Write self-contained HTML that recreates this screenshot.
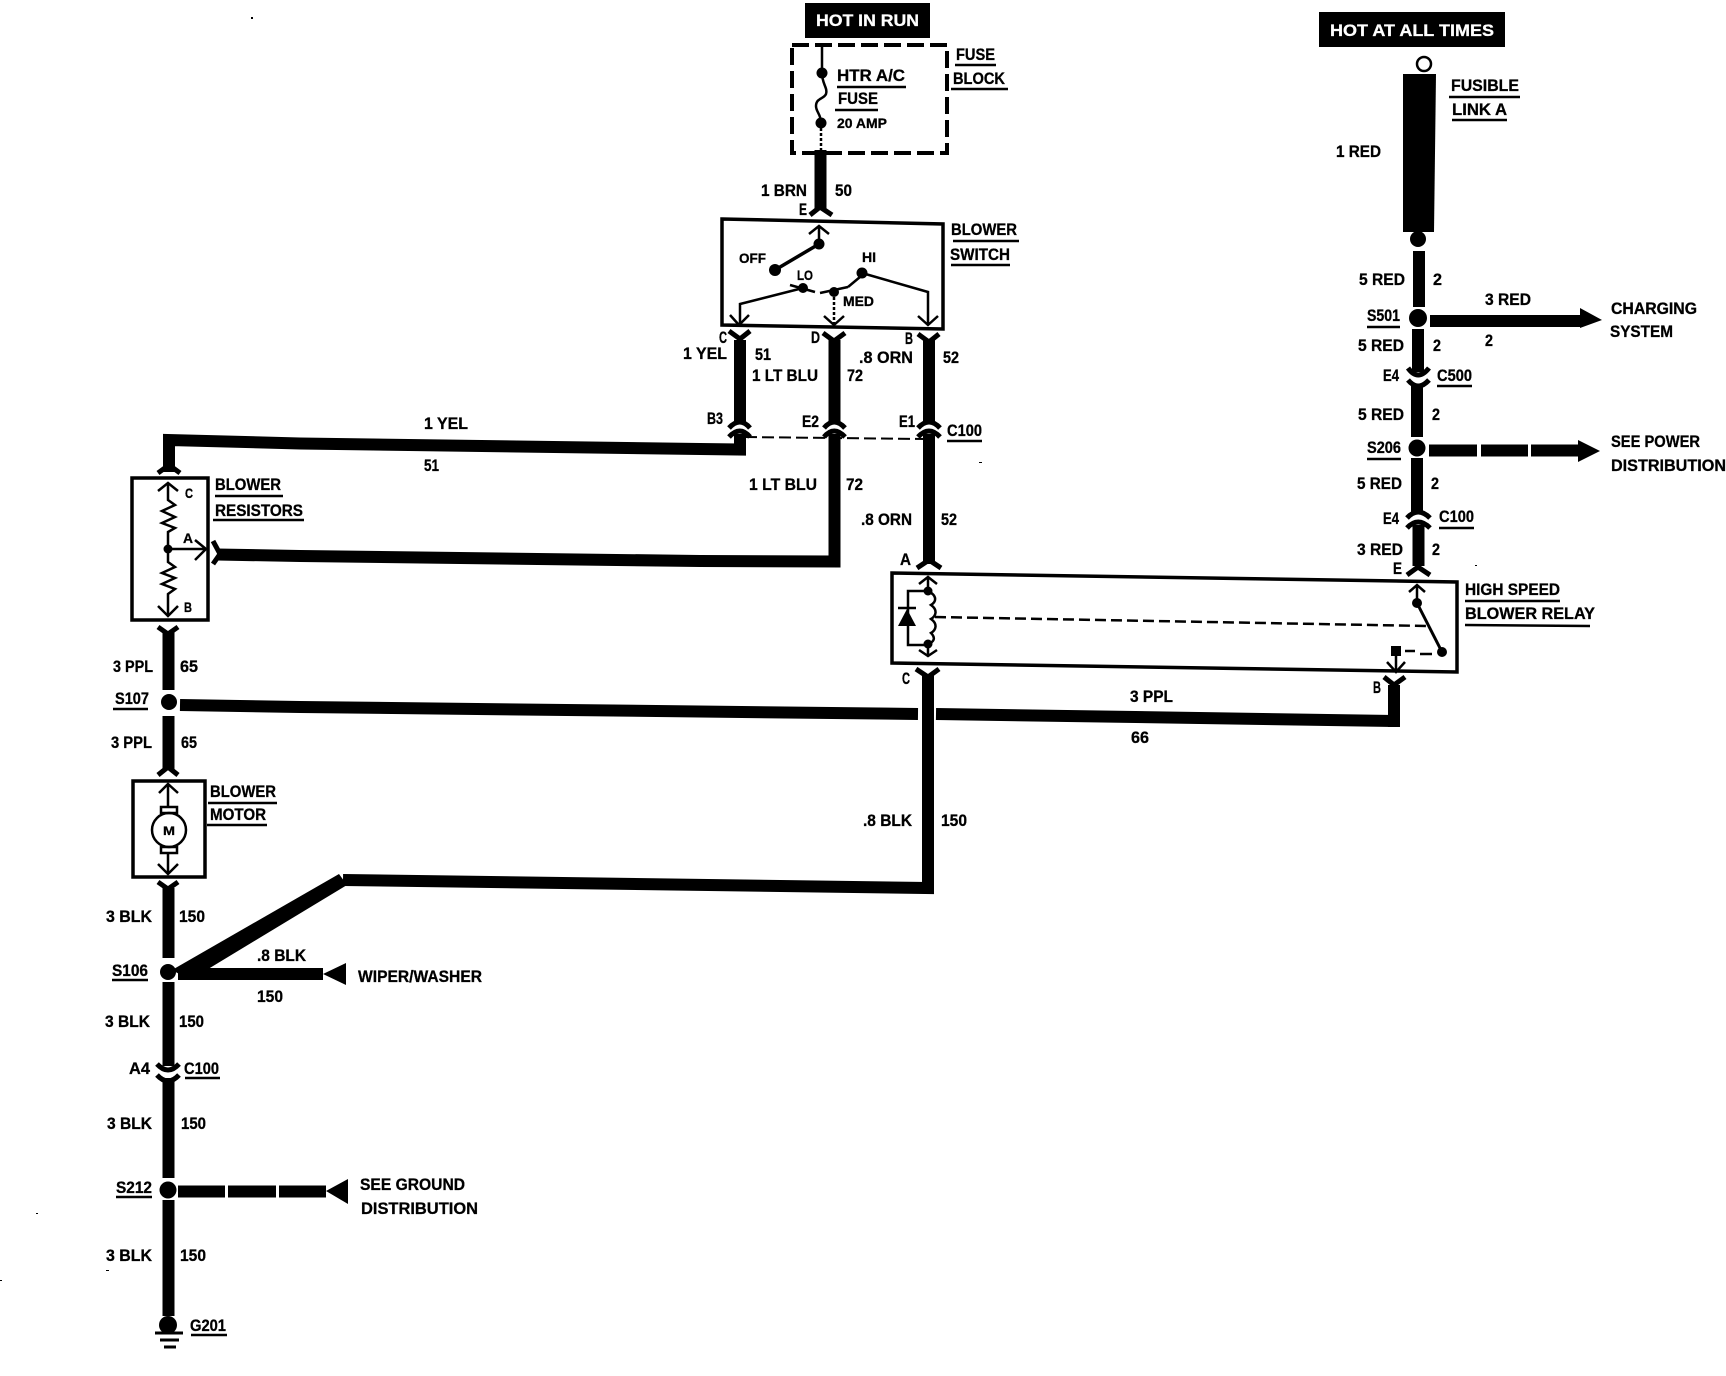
<!DOCTYPE html>
<html><head><meta charset="utf-8"><style>
html,body{margin:0;padding:0;background:#fff}
svg{display:block}
text{font-family:"Liberation Sans",sans-serif;font-weight:bold;font-size:17px;fill:#000;stroke:#000;stroke-width:.3}
.s{font-size:14px}
.w{fill:#fff;stroke:#fff;font-size:17px}
.n{fill:none;stroke:#000}
</style></head><body>
<svg width="1726" height="1376" viewBox="0 0 1726 1376" xmlns="http://www.w3.org/2000/svg">
<!-- wires -->
<g class="n" style="fill:none;stroke:#000;stroke-width:12">
<path d="M820.500 150V210"/>
<path d="M740 340V422"/><path d="M834.500 340V422"/><path d="M929 340V422"/>
<path d="M740 434V449.500L700 449L300 443.500L169 440V472"/>
<path d="M834.500 434V561.500L700 561L300 556L217 554.500"/>
<path d="M929 434V564"/>
<path d="M168.500 632V690"/><path d="M168.500 716V770"/><path d="M168.500 888V958"/>
<path d="M168.500 982V1066"/><path d="M168.500 1078V1178"/><path d="M168.500 1200V1316"/>
<path d="M1419 251V307"/><path d="M1418 329V372"/><path d="M1417 386V437"/><path d="M1417 458V512"/><path d="M1418.500 525V566"/>
<path d="M180 705L300 707L918 714"/><path d="M936 714L1394 721" />
<path d="M1394 685V727"/>
<path d="M928 675V888L343 880"/>
<path d="M178 974H323"/>
<path d="M1430 321H1582"/>
<path d="M1429 450.500H1477M1481 450.500H1528M1531 450.500H1580"/>
<path d="M178 1191.500H225M228 1191.500H276M279 1191.500H326"/>
</g>
<polygon points="339,874 347,885 190,980 172,970" fill="#000"/>
<polygon points="1403,74 1436,74 1434,232 1403,232" fill="#000"/>
<!-- arrowheads -->
<polygon points="1602,320 1580,308 1580,328" fill="#000"/>
<polygon points="1600,451 1578,440 1578,462" fill="#000"/>
<polygon points="323,974 346,963 346,985" fill="#000"/>
<polygon points="326,1191 348,1179 348,1204" fill="#000"/>
<!-- dots -->
<g fill="#000">
<circle cx="169" cy="702" r="8"/><circle cx="168" cy="972" r="8"/><circle cx="168" cy="1190" r="8.500"/><circle cx="168" cy="1325" r="9"/>
<circle cx="1418" cy="239" r="8"/><circle cx="1418" cy="318" r="9"/><circle cx="1417" cy="448" r="8.500"/>
<circle cx="822" cy="73" r="5.500"/><circle cx="821" cy="123" r="5.500"/>
<circle cx="819" cy="244" r="5.500"/><circle cx="775" cy="270" r="6"/><circle cx="803" cy="288" r="5"/><circle cx="834" cy="292" r="5"/><circle cx="862" cy="273" r="5.500"/>
<circle cx="168" cy="549" r="4.500"/>
<circle cx="928" cy="591" r="4.500"/><circle cx="928" cy="644" r="4.500"/>
<circle cx="1417" cy="603" r="5"/><circle cx="1442" cy="652" r="5"/>
<rect x="1391" y="646" width="10" height="10"/>
<polygon points="907,609 898,626 916,626"/>
</g>
<!-- top labels -->
<rect x="805" y="3" width="125" height="35" fill="#000"/>
<rect x="1319" y="12" width="186" height="35" fill="#000"/>
<!-- boxes -->
<g style="fill:none;stroke:#000;stroke-width:3.500">
<rect x="792" y="45" width="155" height="108" stroke-dasharray="17 6" style="stroke-width:4"/>
<polygon points="722,219 943,224 943,329 722,325"/>
<rect x="132" y="478" width="76" height="142"/>
<rect x="133" y="781" width="72" height="96"/>
<polygon points="892,573 1457,582 1457,672 892,663"/>
<circle cx="1424" cy="64" r="7" style="stroke-width:2.500"/>
</g>
<!-- thin inner wiring -->
<g style="fill:none;stroke:#000;stroke-width:2.500">
<path d="M822 45V73C822 84 828 88 826 94C824 99 816 98 816 106C816 112 821 114 821 123"/>
<path d="M821 123V150" stroke-dasharray="3 2"/>
<path d="M819 244V226M809 234L819 226L829 234"/>
<path d="M819 244L775 270" style="stroke-width:3.500"/>
<path d="M790 285L815 292M820 293L848 287M848 287L860 277"/>
<path d="M803 288L740 304V325M730 315L739 325L749 315"/>
<path d="M834 292V325" stroke-dasharray="3 2"/><path d="M824 316L834 325L844 316"/>
<path d="M862 273L928 292V325M918 316L928 325L938 316"/>
<!-- resistors box -->
<path d="M168 484V500L175 505L162 511L175 517L162 523L175 528L168 532V549V562L175 567L162 573L175 578L162 584L175 589L168 594V616"/>
<path d="M158 491L168 483L178 491M158 606L168 616L178 606"/>
<path d="M168 549H206M195 540L206 549L195 560"/>
<!-- motor -->
<path d="M168 785V807M159 793L168 784L178 793M168 853V873M158 864L168 874L178 864"/>
<circle cx="169" cy="830" r="17"/>
<rect x="161" y="807" width="16" height="6"/><rect x="161" y="847" width="16" height="6"/>
<!-- relay -->
<path d="M928 578V591M919 584L928 577L937 584"/>
<path d="M928 591C938 596 936 602 931 605C938 610 936 616 931 619C938 624 936 630 931 633C936 638 934 642 928 644"/>
<path d="M928 591H908V645H928M898 608H916"/>
<path d="M928 644V656M919 650L928 656L937 650"/>
<path d="M1417 586V603M1409 592L1417 585L1425 592"/>
<path d="M1417 603L1442 652" style="stroke-width:3"/>
<path d="M1396 655V671M1387 662L1396 672L1405 662"/>
<path d="M1405 651H1415M1420 654H1432"/>
<path d="M935 617L1427 626" stroke-dasharray="11 5"/>
</g>
<path d="M745 437L925 439" style="fill:none;stroke:#000;stroke-width:2" stroke-dasharray="12 5"/>
<!-- forks -->
<g style="fill:none;stroke:#000;stroke-width:5">
<path d="M810 215L820 207L832 215"/>
<path d="M729 331L740 339L750 331"/><path d="M823 333L834 341L845 333"/><path d="M918 334L929 342L939 334"/>
<path d="M729 428Q740 416 750 428"/><path d="M729 437Q740 425 750 437"/>
<path d="M824 428Q834 416 845 428"/><path d="M824 437Q834 425 845 437"/>
<path d="M918 428Q929 416 940 428"/><path d="M918 437Q929 425 940 437"/>
<path d="M158 473L169 465L180 473"/><path d="M213 541L220 554L213 564"/>
<path d="M158 627L168 634L178 627"/><path d="M158 775L168 767L178 775"/><path d="M158 882L168 889L178 882"/>
<path d="M157 1064Q168 1076 179 1064"/><path d="M157 1075Q168 1087 179 1075"/>
<path d="M917 568L929 560L941 568"/><path d="M916 669L928 677L939 669"/>
<path d="M1407 575L1418 567L1430 575"/><path d="M1384 677L1394 685L1405 677"/>
<path d="M1408 368Q1418 382 1429 368"/><path d="M1408 380Q1418 392 1429 380"/>
<path d="M1407 518Q1418 506 1430 518"/><path d="M1407 528Q1418 516 1430 528"/>
</g>
<!-- ground -->
<g style="stroke:#000;stroke-width:3">
<path d="M155 1333H183M160 1340H179M164 1347H176"/>
</g>
<!-- underlines -->
<path style="fill:none;stroke:#000;stroke-width:2.500" d="M837 87H906M835 110H878M955 65H996M951 89H1008M953 241H1019M951 265H1010M215 496H283M213 520H304M208 803H277M207 825H267M113 709H148M112 980H148M185 1078H220M116 1197H152M191 1335H227M947 441H982M1465 601H1560M1465 625L1590 626M1449 97H1520M1452 120H1507M1367 327H1400M1437 386H1472M1367 459H1401M1439 528H1474"/>
<!-- text -->
<g>
<text x="816" y="26" textLength="103" lengthAdjust="spacingAndGlyphs" class="w">HOT IN RUN</text>
<text x="1330" y="36" textLength="164" lengthAdjust="spacingAndGlyphs" class="w">HOT AT ALL TIMES</text>
<text x="837" y="81" textLength="68" lengthAdjust="spacingAndGlyphs">HTR A/C</text>
<text x="838" y="104" textLength="40" lengthAdjust="spacingAndGlyphs">FUSE</text>
<text x="837" y="128" textLength="50" lengthAdjust="spacingAndGlyphs" class="s">20 AMP</text>
<text x="956" y="60" textLength="39" lengthAdjust="spacingAndGlyphs">FUSE</text>
<text x="953" y="84" textLength="52" lengthAdjust="spacingAndGlyphs">BLOCK</text>
<text x="761" y="196" textLength="46" lengthAdjust="spacingAndGlyphs">1 BRN</text>
<text x="835" y="196" textLength="17" lengthAdjust="spacingAndGlyphs">50</text>
<text x="799" y="215" textLength="8" lengthAdjust="spacingAndGlyphs">E</text>
<text x="951" y="235" textLength="66" lengthAdjust="spacingAndGlyphs">BLOWER</text>
<text x="950" y="260" textLength="60" lengthAdjust="spacingAndGlyphs">SWITCH</text>
<text x="739" y="263" textLength="27" lengthAdjust="spacingAndGlyphs" class="s">OFF</text>
<text x="797" y="280" textLength="16" lengthAdjust="spacingAndGlyphs" class="s">LO</text>
<text x="862" y="262" textLength="14" lengthAdjust="spacingAndGlyphs" class="s">HI</text>
<text x="843" y="306" textLength="31" lengthAdjust="spacingAndGlyphs" class="s">MED</text>
<text x="719" y="343" textLength="8" lengthAdjust="spacingAndGlyphs">C</text>
<text x="811" y="343" textLength="9" lengthAdjust="spacingAndGlyphs">D</text>
<text x="905" y="344" textLength="8" lengthAdjust="spacingAndGlyphs">B</text>
<text x="683" y="359" textLength="44" lengthAdjust="spacingAndGlyphs">1 YEL</text>
<text x="755" y="360" textLength="16" lengthAdjust="spacingAndGlyphs">51</text>
<text x="752" y="381" textLength="66" lengthAdjust="spacingAndGlyphs">1 LT BLU</text>
<text x="847" y="381" textLength="16" lengthAdjust="spacingAndGlyphs">72</text>
<text x="859" y="363" textLength="54" lengthAdjust="spacingAndGlyphs">.8 ORN</text>
<text x="943" y="363" textLength="16" lengthAdjust="spacingAndGlyphs">52</text>
<text x="424" y="429" textLength="44" lengthAdjust="spacingAndGlyphs">1 YEL</text>
<text x="424" y="471" textLength="15" lengthAdjust="spacingAndGlyphs">51</text>
<text x="707" y="424" textLength="16" lengthAdjust="spacingAndGlyphs">B3</text>
<text x="802" y="427" textLength="17" lengthAdjust="spacingAndGlyphs">E2</text>
<text x="899" y="427" textLength="16" lengthAdjust="spacingAndGlyphs">E1</text>
<text x="947" y="436" textLength="35" lengthAdjust="spacingAndGlyphs">C100</text>
<text x="749" y="490" textLength="68" lengthAdjust="spacingAndGlyphs">1 LT BLU</text>
<text x="846" y="490" textLength="17" lengthAdjust="spacingAndGlyphs">72</text>
<text x="861" y="525" textLength="51" lengthAdjust="spacingAndGlyphs">.8 ORN</text>
<text x="941" y="525" textLength="16" lengthAdjust="spacingAndGlyphs">52</text>
<text x="900" y="565" textLength="11" lengthAdjust="spacingAndGlyphs">A</text>
<text x="902" y="684" textLength="8" lengthAdjust="spacingAndGlyphs">C</text>
<text x="1373" y="693" textLength="8" lengthAdjust="spacingAndGlyphs">B</text>
<text x="1393" y="574" textLength="9" lengthAdjust="spacingAndGlyphs">E</text>
<text x="1130" y="702" textLength="43" lengthAdjust="spacingAndGlyphs">3 PPL</text>
<text x="1131" y="743" textLength="18" lengthAdjust="spacingAndGlyphs">66</text>
<text x="863" y="826" textLength="49" lengthAdjust="spacingAndGlyphs">.8 BLK</text>
<text x="941" y="826" textLength="26" lengthAdjust="spacingAndGlyphs">150</text>
<text x="1465" y="595" textLength="95" lengthAdjust="spacingAndGlyphs">HIGH SPEED</text>
<text x="1465" y="619" textLength="130" lengthAdjust="spacingAndGlyphs">BLOWER RELAY</text>
<text x="215" y="490" textLength="66" lengthAdjust="spacingAndGlyphs">BLOWER</text>
<text x="215" y="516" textLength="88" lengthAdjust="spacingAndGlyphs">RESISTORS</text>
<text x="185" y="498" textLength="8" lengthAdjust="spacingAndGlyphs" class="s">C</text>
<text x="183" y="543" textLength="10" lengthAdjust="spacingAndGlyphs" class="s">A</text>
<text x="184" y="612" textLength="8" lengthAdjust="spacingAndGlyphs" class="s">B</text>
<text x="113" y="672" textLength="40" lengthAdjust="spacingAndGlyphs">3 PPL</text>
<text x="180" y="672" textLength="18" lengthAdjust="spacingAndGlyphs">65</text>
<text x="115" y="704" textLength="34" lengthAdjust="spacingAndGlyphs">S107</text>
<text x="111" y="748" textLength="41" lengthAdjust="spacingAndGlyphs">3 PPL</text>
<text x="181" y="748" textLength="16" lengthAdjust="spacingAndGlyphs">65</text>
<text x="210" y="797" textLength="66" lengthAdjust="spacingAndGlyphs">BLOWER</text>
<text x="210" y="820" textLength="56" lengthAdjust="spacingAndGlyphs">MOTOR</text>
<text x="163" y="835" textLength="12" lengthAdjust="spacingAndGlyphs" class="s" style="font-size:12px">M</text>
<text x="106" y="922" textLength="46" lengthAdjust="spacingAndGlyphs">3 BLK</text>
<text x="179" y="922" textLength="26" lengthAdjust="spacingAndGlyphs">150</text>
<text x="112" y="976" textLength="36" lengthAdjust="spacingAndGlyphs">S106</text>
<text x="257" y="961" textLength="49" lengthAdjust="spacingAndGlyphs">.8 BLK</text>
<text x="257" y="1002" textLength="26" lengthAdjust="spacingAndGlyphs">150</text>
<text x="358" y="982" textLength="124" lengthAdjust="spacingAndGlyphs">WIPER/WASHER</text>
<text x="105" y="1027" textLength="45" lengthAdjust="spacingAndGlyphs">3 BLK</text>
<text x="179" y="1027" textLength="25" lengthAdjust="spacingAndGlyphs">150</text>
<text x="129" y="1074" textLength="21" lengthAdjust="spacingAndGlyphs">A4</text>
<text x="184" y="1074" textLength="35" lengthAdjust="spacingAndGlyphs">C100</text>
<text x="107" y="1129" textLength="45" lengthAdjust="spacingAndGlyphs">3 BLK</text>
<text x="181" y="1129" textLength="25" lengthAdjust="spacingAndGlyphs">150</text>
<text x="116" y="1193" textLength="36" lengthAdjust="spacingAndGlyphs">S212</text>
<text x="360" y="1190" textLength="105" lengthAdjust="spacingAndGlyphs">SEE GROUND</text>
<text x="361" y="1214" textLength="117" lengthAdjust="spacingAndGlyphs">DISTRIBUTION</text>
<text x="106" y="1261" textLength="46" lengthAdjust="spacingAndGlyphs">3 BLK</text>
<text x="180" y="1261" textLength="26" lengthAdjust="spacingAndGlyphs">150</text>
<text x="190" y="1331" textLength="36" lengthAdjust="spacingAndGlyphs">G201</text>
<text x="1451" y="91" textLength="68" lengthAdjust="spacingAndGlyphs">FUSIBLE</text>
<text x="1452" y="115" textLength="55" lengthAdjust="spacingAndGlyphs">LINK A</text>
<text x="1336" y="157" textLength="45" lengthAdjust="spacingAndGlyphs">1 RED</text>
<text x="1359" y="285" textLength="46" lengthAdjust="spacingAndGlyphs">5 RED</text>
<text x="1433" y="285" textLength="9" lengthAdjust="spacingAndGlyphs">2</text>
<text x="1485" y="305" textLength="46" lengthAdjust="spacingAndGlyphs">3 RED</text>
<text x="1485" y="346" textLength="8" lengthAdjust="spacingAndGlyphs">2</text>
<text x="1611" y="314" textLength="86" lengthAdjust="spacingAndGlyphs">CHARGING</text>
<text x="1610" y="337" textLength="63" lengthAdjust="spacingAndGlyphs">SYSTEM</text>
<text x="1367" y="321" textLength="33" lengthAdjust="spacingAndGlyphs">S501</text>
<text x="1358" y="351" textLength="46" lengthAdjust="spacingAndGlyphs">5 RED</text>
<text x="1433" y="351" textLength="8" lengthAdjust="spacingAndGlyphs">2</text>
<text x="1383" y="381" textLength="16" lengthAdjust="spacingAndGlyphs">E4</text>
<text x="1437" y="381" textLength="35" lengthAdjust="spacingAndGlyphs">C500</text>
<text x="1358" y="420" textLength="46" lengthAdjust="spacingAndGlyphs">5 RED</text>
<text x="1432" y="420" textLength="8" lengthAdjust="spacingAndGlyphs">2</text>
<text x="1367" y="453" textLength="34" lengthAdjust="spacingAndGlyphs">S206</text>
<text x="1611" y="447" textLength="89" lengthAdjust="spacingAndGlyphs">SEE POWER</text>
<text x="1611" y="471" textLength="115" lengthAdjust="spacingAndGlyphs">DISTRIBUTION</text>
<text x="1357" y="489" textLength="45" lengthAdjust="spacingAndGlyphs">5 RED</text>
<text x="1431" y="489" textLength="8" lengthAdjust="spacingAndGlyphs">2</text>
<text x="1383" y="524" textLength="16" lengthAdjust="spacingAndGlyphs">E4</text>
<text x="1439" y="522" textLength="35" lengthAdjust="spacingAndGlyphs">C100</text>
<text x="1357" y="555" textLength="46" lengthAdjust="spacingAndGlyphs">3 RED</text>
<text x="1432" y="555" textLength="8" lengthAdjust="spacingAndGlyphs">2</text>
</g>
<!-- specks -->
<g fill="#000"><rect x="251" y="17" width="2" height="2"/><rect x="0" y="1280" width="2" height="1"/><rect x="106" y="1270" width="3" height="1"/><rect x="36" y="1213" width="2" height="1"/><rect x="1475" y="565" width="2" height="1"/><rect x="979" y="462" width="3" height="1"/></g>
</svg>
</body></html>
